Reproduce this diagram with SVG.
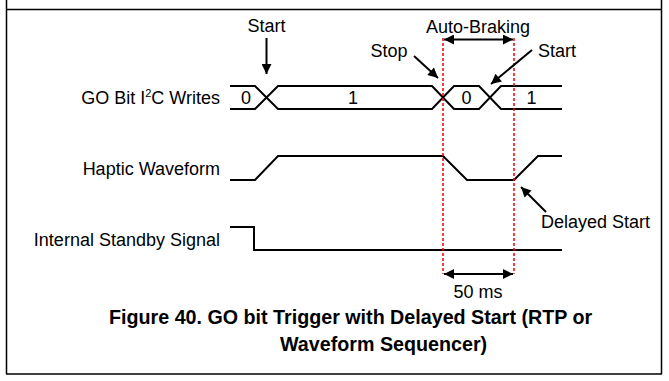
<svg xmlns="http://www.w3.org/2000/svg" width="669" height="381" viewBox="0 0 669 381">
<style>
.lbl{font-family:"Liberation Sans",Arial,sans-serif;font-size:18px;fill:#000}
.cap{font-family:"Liberation Sans",Arial,sans-serif;font-size:19.7px;font-weight:bold;fill:#000}
.sig{fill:none;stroke:#000;stroke-width:2}
.frame{fill:none;stroke:#000;stroke-width:1.5}
.red{stroke:#e00;stroke-width:1.5;stroke-dasharray:3,2;fill:none}
.arr{stroke:#000;stroke-width:2;fill:none}
</style>
<defs>
<marker id="ah" viewBox="0 0 10 10" refX="10" refY="5" markerWidth="11" markerHeight="10" markerUnits="userSpaceOnUse" orient="auto-start-reverse">
<path d="M0,0 L10,5 L0,10 z" fill="#000"/>
</marker>
</defs>
<g id="frame">
<line class="frame" x1="6.5" y1="0" x2="6.5" y2="374"/>
<line class="frame" x1="661.5" y1="0" x2="661.5" y2="374"/>
<line class="frame" x1="6" y1="9.5" x2="662" y2="9.5"/>
<line class="frame" x1="6" y1="374" x2="662" y2="374"/>
</g>
<g id="go-bit">
<text class="lbl" x="220" y="103.5" text-anchor="end">GO Bit I<tspan font-size="11" dy="-7">2</tspan><tspan dy="7">C Writes</tspan></text>
<path class="sig" d="M230,86 H255 L278,109 H432 L454,86 H479 L501,109 H562"/>
<path class="sig" d="M230,109 H255 L278,86 H432 L454,109 H479 L501,86 H562"/>
<text class="lbl" x="246" y="103.5" text-anchor="middle">0</text>
<text class="lbl" x="353" y="103.5" text-anchor="middle">1</text>
<text class="lbl" x="466.5" y="103.5" text-anchor="middle">0</text>
<text class="lbl" x="531.5" y="103.5" text-anchor="middle">1</text>
</g>
<g id="haptic">
<text class="lbl" x="220" y="174.5" text-anchor="end">Haptic Waveform</text>
<path class="sig" d="M230,180 H255 L278,156 H443 L467,180 H514 L538,156 H562"/>
</g>
<g id="standby">
<text class="lbl" x="220" y="245.5" text-anchor="end">Internal Standby Signal</text>
<path class="sig" d="M230,227 H254 V250 H562"/>
</g>
<g id="labels">
<text class="lbl" x="266.5" y="31.5" text-anchor="middle">Start</text>
<text class="lbl" x="478" y="33" text-anchor="middle">Auto-Braking</text>
<text class="lbl" x="389" y="56.5" text-anchor="middle">Stop</text>
<text class="lbl" x="538" y="56.5">Start</text>
<text class="lbl" x="541" y="228">Delayed Start</text>
<text class="lbl" x="478" y="298" text-anchor="middle">50 ms</text>
</g>
<g id="connectors">
<line class="red" x1="443" y1="38" x2="443" y2="274"/>
<line class="red" x1="514" y1="38" x2="514" y2="274"/>
<line class="arr" x1="444" y1="39.5" x2="513" y2="39.5" marker-start="url(#ah)" marker-end="url(#ah)"/>
<line class="arr" x1="444" y1="274" x2="513" y2="274" marker-start="url(#ah)" marker-end="url(#ah)"/>
<line class="arr" x1="266.5" y1="38" x2="266.5" y2="74" marker-end="url(#ah)"/>
<line class="arr" x1="414" y1="56" x2="438" y2="78" marker-end="url(#ah)"/>
<line class="arr" x1="532" y1="50" x2="491" y2="84" marker-end="url(#ah)"/>
<line class="arr" x1="546" y1="212" x2="521" y2="187" marker-end="url(#ah)"/>
</g>
<g id="caption">
<text class="cap" x="109" y="324">Figure 40. GO bit Trigger with Delayed Start (RTP or</text>
<text class="cap" x="280" y="350.5">Waveform Sequencer)</text>
</g>
</svg>
